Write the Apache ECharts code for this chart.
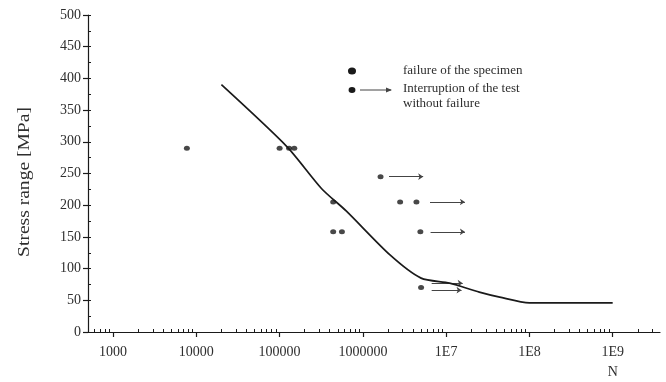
<!DOCTYPE html>
<html>
<head>
<meta charset="utf-8">
<script src="https://cdn.jsdelivr.net/npm/echarts@6/dist/echarts.min.js"></script>
<style>
  html, body { margin: 0; padding: 0; background: #fff; }
  #chart { width: 666px; height: 382px; }
</style>
</head>
<body>
<div id="chart"></div>
<script>
// S-N curve (number of cycles N, stress range in MPa)
const curveN = [2.0e4, 1.23e5, 3.2e5, 6.3e5, 2.1e6, 5.0e6, 1.1e7, 2.5e7, 4.4e7, 1.0e8, 1.0e9];
const curveS = [390, 292, 226, 191, 122, 85, 77, 63, 55, 46, 46];

// Specimens that failed
const failN = [7700, 1.0e5, 1.3e5, 1.5e5, 4.4e5, 4.4e5, 5.6e5];
const failS = [290, 290, 290, 290, 205, 158, 158];

// Tests interrupted without failure (run-outs)
const runoutN = [1.63e6, 2.8e6, 4.4e6, 4.9e6, 5.0e6];
const runoutS = [245, 205, 205, 158, 70];

// Run-out arrows: start and end cycles at a given stress
const arrowFrom = [2.06e6, 6.4e6, 6.5e6, 6.7e6, 6.7e6];
const arrowTo   = [5.3e6, 1.68e7, 1.68e7, 1.58e7, 1.53e7];
const arrowS    = [245, 205, 158, 77, 66];

// Axis ticks
const xMajor = [1e3, 1e4, 1e5, 1e6, 1e7, 1e8, 1e9];
const xTickLabels = ['1000', '10000', '100000', '1000000', '1E7', '1E8', '1E9'];
const xMinor = [];
[100, 1e3, 1e4, 1e5, 1e6, 1e7, 1e8, 1e9].forEach(function (d) {
  for (let k = 2; k <= 9; k++) {
    const v = k * d;
    if (v > 500 && v < 3.7e9) xMinor.push(v);
  }
});

const serif = '"Liberation Serif", "DejaVu Serif", serif';
const ink = '#1a1a1a';
const textColor = '#2e2e2e';

const chart = echarts.init(document.getElementById('chart'), null, { renderer: 'canvas' });

const zip = (a, b) => a.map((v, i) => [v, b[i]]);

chart.setOption({
  animation: false,
  backgroundColor: '#fff',
  grid: { left: 88, right: 6, top: 15, bottom: 50, containLabel: false, outerBoundsMode: 'none' },
  xAxis: [
    {
      type: 'log', min: 500, max: 3.7e9,
      axisLine: { show: true, lineStyle: { color: ink, width: 1.2 } },
      axisTick: { show: true, customValues: xMajor, length: 5, lineStyle: { color: ink, width: 1.2 } },
      axisLabel: {
        customValues: xMajor,
        margin: 10,
        fontFamily: serif, fontSize: 14, color: textColor, lineHeight: 20,
        formatter: function (v) {
          const i = xMajor.findIndex(m => Math.abs(Math.log10(m) - Math.log10(v)) < 1e-6);
          const s = i >= 0 ? xTickLabels[i] : '';
          return i === xMajor.length - 1 ? s + '\nN' : s;
        }
      },
      splitLine: { show: false }
    },
    {
      type: 'log', min: 500, max: 3.7e9, gridIndex: 0, position: 'bottom',
      axisLine: { show: false },
      axisTick: { show: true, inside: true, customValues: xMinor, length: 3, lineStyle: { color: ink, width: 1 } },
      axisLabel: { show: false },
      splitLine: { show: false }
    }
  ],
  yAxis: [
    {
      type: 'value', min: 0, max: 500, interval: 50,
      axisLine: { show: true, lineStyle: { color: ink, width: 1.2 } },
      axisTick: { show: true, length: 5, lineStyle: { color: ink, width: 1.2 } },
      axisLabel: { margin: 7, fontFamily: serif, fontSize: 14, color: textColor },
      splitLine: { show: false }
    },
    {
      type: 'value', min: 0, max: 500, interval: 25, position: 'left',
      axisLine: { show: false },
      axisTick: { show: true, inside: true, length: 3, lineStyle: { color: ink, width: 1 } },
      axisLabel: { show: false },
      splitLine: { show: false }
    }
  ],
  series: [
    {
      name: 'S-N curve', type: 'line', data: zip(curveN, curveS),
      showSymbol: false, smooth: 0.25,
      lineStyle: { color: ink, width: 1.7 }
    },
    {
      name: 'failure of the specimen', type: 'scatter', data: zip(failN, failS),
      symbol: 'circle', symbolSize: [6, 5], itemStyle: { color: ink }
    },
    {
      name: 'Interruption of the test without failure', type: 'scatter', data: zip(runoutN, runoutS),
      symbol: 'circle', symbolSize: [6, 5], itemStyle: { color: ink }
    },
    {
      name: 'run-out arrows', type: 'lines', coordinateSystem: 'cartesian2d',
      symbol: ['none', 'arrow'], symbolSize: 5,
      lineStyle: { color: '#444', width: 1, opacity: 1 },
      data: arrowS.map((s, i) => ({ coords: [[arrowFrom[i], s], [arrowTo[i], s]] }))
    }
  ],
  graphic: [
    // axis title
    { type: 'text', x: 25, y: 182, rotation: Math.PI / 2, scaleX: 1.15,
      style: { text: 'Stress range [MPa]', fontFamily: serif, fontSize: 17, fill: textColor, align: 'center', verticalAlign: 'middle' } },
    // legend
    { type: 'circle', shape: { cx: 352, cy: 71, r: 3.5 }, scaleX: 1.15, originX: 352, originY: 71, style: { fill: ink } },
    { type: 'text', x: 403, y: 71, style: { text: 'failure of the specimen', fontFamily: serif, fontSize: 13, fill: textColor, verticalAlign: 'middle' } },
    { type: 'circle', shape: { cx: 352, cy: 90, r: 3 }, scaleX: 1.15, originX: 352, originY: 90, style: { fill: ink } },
    { type: 'line', shape: { x1: 360, y1: 90, x2: 391, y2: 90 }, style: { stroke: '#444', lineWidth: 1 } },
    { type: 'polygon', shape: { points: [[392, 90], [386, 87.5], [386, 92.5]] }, style: { fill: '#444' } },
    { type: 'text', x: 403, y: 81, style: { text: 'Interruption of the test\nwithout failure', fontFamily: serif, fontSize: 13, lineHeight: 15, fill: textColor, verticalAlign: 'top' } }
  ]
});
</script>
</body>
</html>
